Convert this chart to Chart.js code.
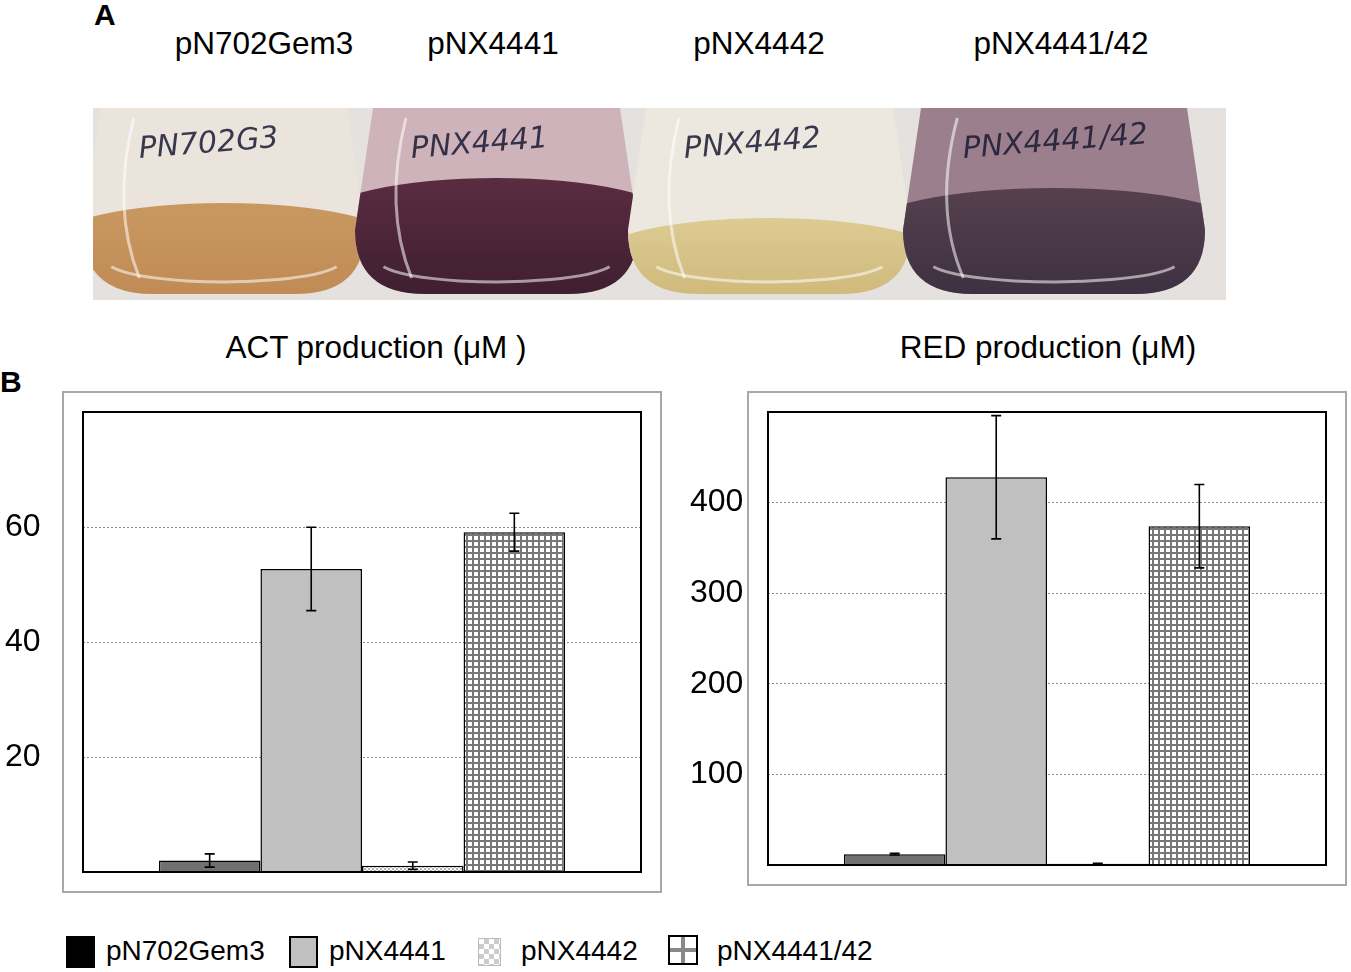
<!DOCTYPE html>
<html>
<head>
<meta charset="utf-8">
<script src="https://cdn.jsdelivr.net/npm/chart.js@4.4.0/dist/chart.umd.min.js"></script>
<style>
    body { margin: 0; width: 1351px; height: 972px; position: relative; background: #fff; overflow: hidden;
           font-family: 'Liberation Sans', Arial, Helvetica, sans-serif; color: #000; }
    .txt { position: absolute; white-space: nowrap; }
    .center { width: 400px; text-align: center; }
    .panel { font-weight: bold; font-size: 30px; line-height: 34px; }
    .strain { font-size: 31.5px; line-height: 36px; top: 25px; }
    .title { font-size: 31.5px; line-height: 36px; top: 329px; }
    canvas { position: absolute; }
    .leg { position: absolute; top: 934px; font-size: 28px; line-height: 34px; }
    .sw { position: absolute; box-sizing: border-box; }
</style>
</head>
<body>
<div class="txt panel" style="left:94px; top:-2px;">A</div>
<div class="txt panel" style="left:0px; top:365px;">B</div>

<div id="strainLabels"></div>
<canvas id="photo" width="1133" height="192" style="left:93px; top:108px;"></canvas>

<div class="txt center title" style="left:176px;">ACT production (μM )</div>
<div class="txt center title" style="left:848px;">RED production (μM)</div>

<canvas id="actChart" width="670" height="520" style="left:0px; top:380px;"></canvas>
<canvas id="redChart" width="671" height="510" style="left:680px; top:380px;"></canvas>

<div id="legend"></div>

<script>
// Data
const strains = ['pN702Gem3', 'pNX4441', 'pNX4442', 'pNX4441/42'];
const actValues = [2.0, 52.7, 1.1, 59.1];
const actErrors = [1.15, 7.25, 0.65, 3.3];
const redValues = [12, 428, 1.5, 374];
const redErrors = [1, 68, 0.5, 46];
const actTickLabels = [20, 40, 60];
const redTickLabels = [100, 200, 300, 400];

// Strain labels above the photo (centres in px)
const strainCentres = [264, 493, 759, 1061];
strains.forEach((s, i) => {
    const d = document.createElement('div');
    d.className = 'txt center strain';
    d.style.left = (strainCentres[i] - 200) + 'px';
    d.textContent = s;
    document.getElementById('strainLabels').appendChild(d);
});

// Bar fills
function makePattern(size, draw) {
    const c = document.createElement('canvas');
    c.width = c.height = size;
    const g = c.getContext('2d');
    draw(g, size);
    return g.createPattern(c, 'repeat');
}
const checkFill = makePattern(4, (g) => {
    g.fillStyle = '#fff'; g.fillRect(0, 0, 4, 4);
    g.fillStyle = '#b4b4b4'; g.fillRect(0, 0, 2, 2); g.fillRect(2, 2, 2, 2);
});
const gridFill = makePattern(6, (g) => {
    g.fillStyle = '#777'; g.fillRect(0, 0, 6, 6);
    g.fillStyle = '#fff'; g.fillRect(0, 0, 4, 4);
});
const barFills = ['#707070', '#c0c0c0', checkFill, gridFill];

// Error bars drawn from the errors arrays
const errorBars = {
    id: 'errorBars',
    afterDatasetsDraw(chart) {
        const ctx = chart.ctx, y = chart.scales.y;
        ctx.save();
        ctx.strokeStyle = '#000';
        ctx.lineWidth = 1.6;
        chart.data.datasets.forEach((ds, i) => {
            const bar = chart.getDatasetMeta(i).data[0];
            const v = ds.data[0], e = ds.errors[0];
            const top = y.getPixelForValue(v + e);
            const bot = y.getPixelForValue(Math.max(v - e, 0));
            ctx.beginPath();
            ctx.moveTo(bar.x, top); ctx.lineTo(bar.x, bot);
            ctx.moveTo(bar.x - 5, top); ctx.lineTo(bar.x + 5, top);
            ctx.moveTo(bar.x - 5, bot); ctx.lineTo(bar.x + 5, bot);
            ctx.stroke();
        });
        ctx.restore();
    }
};

// Gray outer frame and black plot frame
const frames = {
    id: 'frames',
    beforeDraw(chart) {
        const a = chart.chartArea, ctx = chart.ctx;
        ctx.save();
        ctx.strokeStyle = '#a8a8a8';
        ctx.lineWidth = 2;
        ctx.strokeRect(a.left - 20, a.top - 20, a.width + 40, a.height + 40);
        ctx.restore();
    },
    afterDraw(chart) {
        const a = chart.chartArea, ctx = chart.ctx;
        ctx.save();
        ctx.strokeStyle = '#000';
        ctx.lineWidth = 2;
        ctx.strokeRect(a.left, a.top, a.width, a.height);
        ctx.restore();
    }
};

function makeChart(id, values, errors, maxY, step, tickLabels, axisWidth, padding) {
    return new Chart(document.getElementById(id), {
        type: 'bar',
        data: {
            labels: [''],
            datasets: strains.map((s, i) => ({
                label: s,
                data: [values[i]],
                errors: [errors[i]],
                backgroundColor: barFills[i],
                borderColor: '#000',
                borderWidth: 1.5,
                barPercentage: 1,
                categoryPercentage: 0.728
            }))
        },
        options: {
            responsive: false,
            animation: false,
            layout: { padding: padding },
            plugins: { legend: { display: false }, tooltip: { enabled: false } },
            scales: {
                x: { display: false },
                y: {
                    min: 0,
                    max: maxY,
                    afterFit: (scale) => { scale.width = axisWidth; },
                    ticks: {
                        stepSize: step,
                        color: '#000',
                        font: { family: "'Liberation Sans', Arial, sans-serif", size: 32 },
                        crossAlign: 'far',
                        padding: 0,
                        callback: (v) => tickLabels.includes(v) ? String(v) : ''
                    },
                    grid: { color: '#8c8c8c', lineWidth: 1, drawTicks: false },
                    border: { display: false, dash: [2, 2] }
                }
            }
        },
        plugins: [frames, errorBars]
    });
}

makeChart('actChart', actValues, actErrors, 80, 20, actTickLabels, 78,
    { left: 5, top: 32, right: 29, bottom: 28 });
makeChart('redChart', redValues, redErrors, 500, 100, redTickLabels, 78,
    { left: 10, top: 32, right: 25, bottom: 25 });

// Legend under both charts
const legendSwatches = [
    { left: 66, top: 936, w: 29, h: 32, css: 'background:#000;' },
    { left: 289, top: 936, w: 29, h: 32, css: 'background:#c0c0c0; border:2px solid #000;' },
    { left: 478, top: 938, w: 23, h: 28, css: 'border:1px solid #bbb; background-color:#fff; background-image:conic-gradient(#ccc 25%, #fff 0 50%, #ccc 0 75%, #fff 0); background-size:10px 10px;' },
    { left: 668, top: 935, w: 30, h: 30, css: 'border:2px solid #000; background:linear-gradient(90deg, transparent 11px, #888 11px, #888 15px, transparent 15px), linear-gradient(0deg, transparent 11px, #888 11px, #888 15px, transparent 15px), #fff;' }
];
const legendTextLeft = [106, 329, 521, 717];
const legend = document.getElementById('legend');
strains.forEach((s, i) => {
    const sw = legendSwatches[i];
    const b = document.createElement('div');
    b.className = 'sw';
    b.style.cssText = `left:${sw.left}px; top:${sw.top}px; width:${sw.w}px; height:${sw.h}px; ${sw.css}`;
    legend.appendChild(b);
    const t = document.createElement('div');
    t.className = 'leg';
    t.style.left = legendTextLeft[i] + 'px';
    t.textContent = s;
    legend.appendChild(t);
});

// Simplified rendering of the flask photo (panel A)
function drawPhoto() {
    const c = document.getElementById('photo');
    const g = c.getContext('2d');
    const H = c.height;
    g.fillStyle = '#e4e1de';
    g.fillRect(0, 0, c.width, H);
    const flasks = [
        { x0: -10, x1: 272, glass: '#ebe4dc', liquid: '#c99860', deep: '#c08a55', lt: 95, ink: 'PN702G3' },
        { x0: 262, x1: 545, glass: '#cfb3bb', liquid: '#5a2c41', deep: '#3e1e30', lt: 70, ink: 'PNX4441' },
        { x0: 535, x1: 818, glass: '#ece8e0', liquid: '#dccb93', deep: '#cfb97a', lt: 110, ink: 'PNX4442' },
        { x0: 810, x1: 1112, glass: '#9c7f8c', liquid: '#56404f', deep: '#3c3040', lt: 80, ink: 'PNX4441/42' }
    ];
    flasks.forEach((f) => {
        const w = f.x1 - f.x0, r = 70;
        g.save();
        g.beginPath();
        g.moveTo(f.x0 + 18, 0);
        g.lineTo(f.x1 - 18, 0);
        g.lineTo(f.x1, H - r);
        g.quadraticCurveTo(f.x1, H - 6, f.x1 - r, H - 6);
        g.lineTo(f.x0 + r, H - 6);
        g.quadraticCurveTo(f.x0, H - 6, f.x0, H - r);
        g.closePath();
        g.fillStyle = f.glass;
        g.fill();
        g.clip();
        const grad = g.createLinearGradient(0, f.lt, 0, H);
        grad.addColorStop(0, f.liquid);
        grad.addColorStop(1, f.deep);
        g.fillStyle = grad;
        g.beginPath();
        g.ellipse(f.x0 + w / 2, f.lt + 40, w * 0.62, 40, 0, Math.PI, 0);
        g.rect(f.x0 - 20, f.lt + 40, w + 40, H);
        g.fill();
        // glass reflections
        g.strokeStyle = 'rgba(255,255,255,0.55)';
        g.lineWidth = 3;
        g.beginPath();
        g.ellipse(f.x0 + w / 2, H - 40, w * 0.42, 22, 0, 0.1 * Math.PI, 0.9 * Math.PI);
        g.stroke();
        g.beginPath();
        g.moveTo(f.x0 + w * 0.18, 10);
        g.quadraticCurveTo(f.x0 + w * 0.1, 100, f.x0 + w * 0.2, 170);
        g.stroke();
        // handwriting on the flask
        g.fillStyle = 'rgba(25,25,50,0.85)';
        g.font = 'italic 30px "DejaVu Sans", sans-serif';
        g.translate(f.x0 + w * 0.2, 50);
        g.rotate(-0.08);
        g.fillText(f.ink, 0, 0);
        g.restore();
    });
}
drawPhoto();
</script>
</body>
</html>
